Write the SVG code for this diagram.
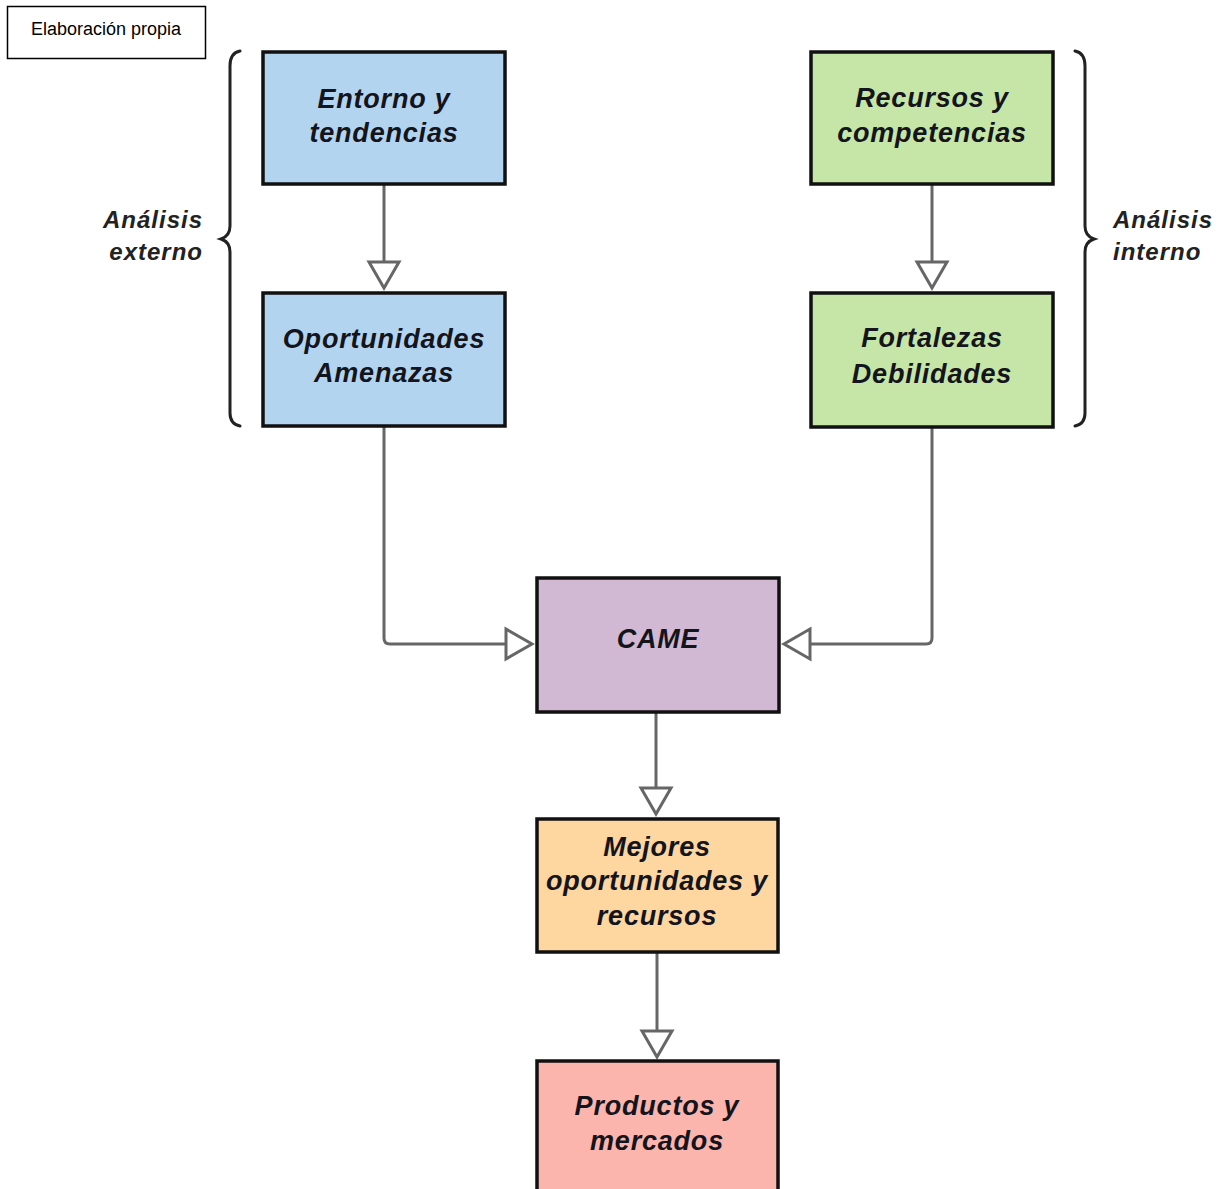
<svg xmlns="http://www.w3.org/2000/svg" width="1222" height="1189" viewBox="0 0 1222 1189">
  <style>
    .box { stroke: #111; stroke-width: 3.5; }
    .lbl { font-family: "Liberation Sans", Arial, sans-serif; font-weight: bold; font-style: italic; font-size: 27px; letter-spacing: 0.8px; fill: #14141c; text-anchor: middle; }
    .side { font-family: "Liberation Sans", Arial, sans-serif; font-weight: bold; font-style: italic; font-size: 24px; letter-spacing: 1px; fill: #222; }
    .conn { fill: none; stroke: #666; stroke-width: 3; stroke-linejoin: round; }
    .head { fill: #fff; stroke: #666; stroke-width: 3; stroke-linejoin: miter; }
    .brace { fill: none; stroke: #222; stroke-width: 3; stroke-linecap: round; }
  </style>
  <rect width="1222" height="1189" fill="#fff"/>

  <!-- source note -->
  <g id="note">
    <rect x="7.5" y="6.5" width="198" height="52" fill="#fff" stroke="#000" stroke-width="1.5"/>
    <text x="106" y="35" font-family="Liberation Sans, Arial, sans-serif" font-size="18" fill="#000" text-anchor="middle">Elaboración propia</text>
  </g>

  <!-- braces and side labels -->
  <g id="external-brace">
    <path class="brace" d="M240,51 Q230,53 230,66 L230,226 Q230,236 221,239 Q230,242 230,252 L230,413 Q230,424 240,426"/>
    <text class="side" text-anchor="end" x="203" y="228">Análisis</text>
    <text class="side" text-anchor="end" x="203" y="260">externo</text>
  </g>
  <g id="internal-brace">
    <path class="brace" d="M1075,51 Q1085,53 1085,66 L1085,226 Q1085,236 1094,239 Q1085,242 1085,252 L1085,413 Q1085,424 1075,426"/>
    <text class="side" x="1113" y="228">Análisis</text>
    <text class="side" x="1113" y="260">interno</text>
  </g>

  <!-- connectors: lines with open triangular heads -->
  <g id="connectors">
    <path d="M384,184 L384,262" class="conn"/>
    <path d="M384,262 L399,262 L384,288 L369,262 Z" class="head"/>
    <path d="M932,184 L932,262" class="conn"/>
    <path d="M932,262 L947,262 L932,288 L917,262 Z" class="head"/>
    <path d="M384,426 L384,638 Q384,644 390,644 L506,644" class="conn"/>
    <path d="M506,644 L506,629 L532,644 L506,659 Z" class="head"/>
    <path d="M932,427 L932,638 Q932,644 926,644 L810,644" class="conn"/>
    <path d="M810,644 L810,629 L784,644 L810,659 Z" class="head"/>
    <path d="M656,712 L656,788" class="conn"/>
    <path d="M656,788 L671,788 L656,814 L641,788 Z" class="head"/>
    <path d="M657,952 L657,1031" class="conn"/>
    <path d="M657,1031 L672,1031 L657,1057 L642,1031 Z" class="head"/>
  </g>

  <!-- nodes -->
  <g id="entorno">
    <rect class="box" x="263" y="52" width="242" height="132" fill="#b3d4ef"/>
    <text class="lbl" x="384" y="108">Entorno y</text>
    <text class="lbl" x="384" y="142">tendencias</text>
  </g>
  <g id="oportunidades">
    <rect class="box" x="263" y="293" width="242" height="133" fill="#b3d4ef"/>
    <text class="lbl" x="384" y="348">Oportunidades</text>
    <text class="lbl" x="384" y="382">Amenazas</text>
  </g>
  <g id="recursos">
    <rect class="box" x="811" y="52" width="242" height="132" fill="#c6e6a8"/>
    <text class="lbl" x="932" y="107">Recursos y</text>
    <text class="lbl" x="932" y="142">competencias</text>
  </g>
  <g id="fortalezas">
    <rect class="box" x="811" y="293" width="242" height="134" fill="#c6e6a8"/>
    <text class="lbl" x="932" y="347">Fortalezas</text>
    <text class="lbl" x="932" y="383">Debilidades</text>
  </g>
  <g id="came">
    <rect class="box" x="537" y="578" width="242" height="134" fill="#d2b9d3"/>
    <text class="lbl" x="658" y="648">CAME</text>
  </g>
  <g id="mejores">
    <rect class="box" x="537" y="819" width="241" height="133" fill="#fdd6a0"/>
    <text class="lbl" x="657" y="856">Mejores</text>
    <text class="lbl" x="657" y="890">oportunidades y</text>
    <text class="lbl" x="657" y="925">recursos</text>
  </g>
  <g id="productos">
    <rect class="box" x="537" y="1061" width="241" height="130" fill="#fbb5ad"/>
    <text class="lbl" x="657" y="1115">Productos y</text>
    <text class="lbl" x="657" y="1150">mercados</text>
  </g>
</svg>
